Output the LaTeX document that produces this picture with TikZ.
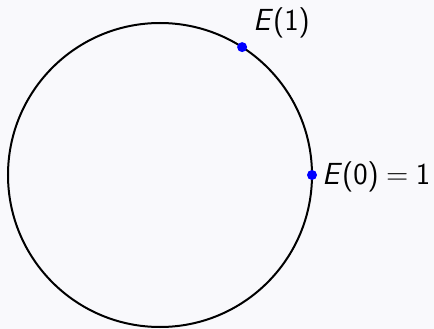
\documentclass[tikz,border=0pt]{standalone}
\usetikzlibrary{calc}
\definecolor{bgc}{rgb}{0.976,0.976,0.988}
\tikzset{
  dot/.style={circle,fill=blue,inner sep=0pt,minimum size=10pt},
  lab/.style={anchor=base west,inner sep=0pt,font=\fontsize{30.5}{36}\selectfont\sffamily}
}
\begin{document}
\begin{tikzpicture}[x=1pt,y=-1pt]
\fill[bgc] (0,0) rectangle (434,329);
\useasboundingbox (0,0) rectangle (434,329);
\coordinate (c) at (160,175);
\draw[line width=2pt] (c) circle[radius=152];
\node[dot] (e0) at ($(c)+(152,0)$) {};
\node[dot] (e1) at ($(c)+({152*cos(57.2958)},{-152*sin(57.2958)})$) {};
\node[lab] (l0) at (322,184) {\textit{E}(0)\hspace{0.24em}=\hspace{0.24em}1};
\node[lab] (l1) at (253,31) {\textit{E}(1)};
\end{tikzpicture}
\end{document}
